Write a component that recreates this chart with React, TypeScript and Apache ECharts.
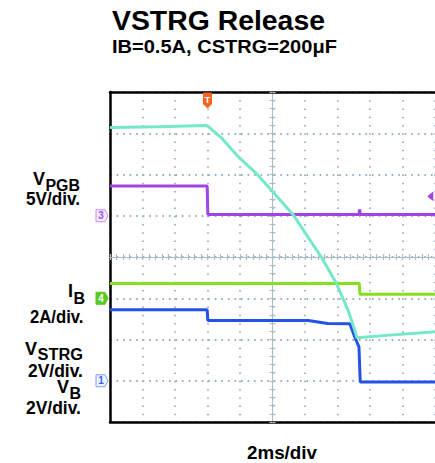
import React, { useEffect, useRef } from "react";
import * as echarts from "echarts";

// ---- texts ----
const TITLE = "VSTRG Release";
const SUBTITLE = "IB=0.5A, CSTRG=200μF";
const TIME_LABEL = "2ms/div";

// ---- screen: 10 horizontal divisions (2 ms/div), 8 vertical divisions ----
const X_DIVS = 10;
const Y_DIVS = 8;
const TRIGGER_X = 3;

// ---- traces, in screen divisions (x from left edge, y from bottom edge) ----
// VSTRG (cyan, 2V/div)
const vstrgX = [0, 1.5, 2.98, 3.44, 3.96, 4.48, 4.97, 5.64, 6.01, 6.5, 6.96, 7.32, 7.53, 7.6, 8.5, 10];
const vstrgY = [7.14, 7.16, 7.19, 6.88, 6.42, 6.04, 5.62, 5.02, 4.58, 4.0, 3.37, 2.72, 2.23, 2.04, 2.1, 2.19];
// VPGB (purple, 5V/div)
const vpgbX = [0, 2.99, 3.01, 7.66, 7.68, 7.7, 10];
const vpgbY = [5.72, 5.72, 5.03, 5.03, 5.15, 5.03, 5.03];
// IB (green, 2A/div)
const ibX = [0, 7.67, 7.69, 10];
const ibY = [3.36, 3.36, 3.1, 3.1];
// VB (blue, 2V/div)
const vbX = [0, 2.99, 3.01, 6.1, 6.7, 7.38, 7.53, 7.66, 7.7, 10];
const vbY = [2.72, 2.72, 2.46, 2.46, 2.39, 2.38, 2.06, 1.82, 0.97, 0.97];

// channel ground markers
const groundChannels = ["3", "4", "1"];
const groundLevels = [5.0, 3.0, 1.0];
// trigger level marker (right edge)
const trigLevelX = 9.78;
const trigLevelY = 5.47;

// ---- styles ----
const FONT = '"Liberation Sans", Arial, sans-serif';
const C_CYAN = "#74e8c9";
const C_PURPLE = "#a143e6";
const C_GREEN = "#86e01e";
const C_BLUE = "#2352e6";
const C_DOT = "#98aebb";
const C_CENTER = "#aabcc6";
const markerFill = ["#f4e8ff", "#5ac81e", "#eef2ff"];
const markerStroke = ["#c58ef0", "#5ac81e", "#7f9ef5"];
const markerText = ["#a050e0", "#ffffff", "#3a62e8"];

type Lbl = { t: string; x0: number; x1: number; base: number; size: number; fit: boolean };
const LABELS: Lbl[] = [
  { t: TITLE, x0: 112, x1: 325, base: 30, size: 28, fit: true },
  { t: SUBTITLE, x0: 112, x1: 337, base: 53.3, size: 19, fit: true },
  { t: TIME_LABEL, x0: 247, x1: 317, base: 459, size: 19, fit: true },
  { t: "V", x0: 33, x1: 45, base: 185, size: 18, fit: false },
  { t: "PGB", x0: 45.5, x1: 80, base: 190.7, size: 16, fit: true },
  { t: "5V/div.", x0: 26, x1: 80, base: 205, size: 18, fit: true },
  { t: "I", x0: 68, x1: 73, base: 297, size: 18, fit: false },
  { t: "B", x0: 73.5, x1: 84, base: 304, size: 16, fit: false },
  { t: "2A/div.", x0: 30, x1: 83.5, base: 322.7, size: 18, fit: true },
  { t: "V", x0: 25, x1: 37, base: 355, size: 18, fit: false },
  { t: "STRG", x0: 37.5, x1: 83, base: 359.3, size: 16, fit: true },
  { t: "2V/div.", x0: 28, x1: 83, base: 377.3, size: 18, fit: true },
  { t: "V", x0: 57, x1: 69, base: 393, size: 18, fit: false },
  { t: "B", x0: 69.5, x1: 81, base: 399.5, size: 16, fit: false },
  { t: "2V/div.", x0: 26, x1: 81, base: 414, size: 18, fit: true },
];

const pair = (xs: number[], ys: number[]) => xs.map((x, i) => [x, ys[i]]);

const lineSeries = (data: number[][], color: string, z: number) => ({
  type: "line",
  xAxisIndex: 0,
  yAxisIndex: 0,
  data,
  symbol: "none",
  showSymbol: false,
  silent: true,
  z,
  lineStyle: { color, width: 3 },
  itemStyle: { color },
});

const centerAxisCommon = (inside: boolean) => ({
  type: "value",
  interval: 1,
  axisLine: { show: true, onZero: true, onZeroAxisIndex: 1, lineStyle: { color: C_CENTER, width: 1 } },
  axisTick: { show: true, inside, length: 3, lineStyle: { color: C_CENTER, width: 1.2 } },
  minorTick: { show: true, splitNumber: 5, length: 3, lineStyle: { color: C_CENTER, width: 1.2 } },
  axisLabel: { show: false },
  splitLine: { show: false },
});

export default function App() {
  const ref = useRef<HTMLDivElement>(null);
  useEffect(() => {
    document.body.style.margin = "0";
    const chart = echarts.init(ref.current!, null, { renderer: "svg" });
    const frame = { show: true, onZero: false, lineStyle: { color: "#000", width: 2.5 } };
    chart.setOption({
      animation: false,
      backgroundColor: "#fff",
      grid: { left: 110, top: 92, width: 327.5, height: 330, containLabel: false },
      xAxis: [
        {
          type: "value", min: 0, max: X_DIVS, interval: 1,
          axisLine: frame, axisTick: { show: false }, axisLabel: { show: false },
          splitLine: { show: true, lineStyle: { color: C_DOT, width: 1.8, type: [1.6, 6.65] } },
        },
        { ...centerAxisCommon(false), min: -5, max: 5 },
        { ...centerAxisCommon(true), min: -5, max: 5 },
        {
          type: "value", position: "top", min: 0, max: X_DIVS, interval: 1,
          axisLine: frame, axisTick: { show: false }, axisLabel: { show: false }, splitLine: { show: false },
        },
      ],
      yAxis: [
        {
          type: "value", min: 0, max: Y_DIVS, interval: 1,
          axisLine: frame, axisTick: { show: false }, axisLabel: { show: false },
          splitLine: { show: true, lineStyle: { color: C_DOT, width: 1.8, type: [1.6, 4.95] } },
        },
        { ...centerAxisCommon(false), min: -4, max: 4 },
        { ...centerAxisCommon(true), min: -4, max: 4 },
      ],
      series: [
        lineSeries(pair(vpgbX, vpgbY), C_PURPLE, 3),
        lineSeries(pair(ibX, ibY), C_GREEN, 4),
        lineSeries(pair(vbX, vbY), C_BLUE, 5),
        lineSeries(pair(vstrgX, vstrgY), C_CYAN, 6),
      ],
    });

    const px = (x: number, y: number) =>
      chart.convertToPixel({ xAxisIndex: 0, yAxisIndex: 0 }, [x, y]) as number[];

    const ctx = document.createElement("canvas").getContext("2d")!;
    const measure = (t: string, size: number) => {
      ctx.font = `bold ${size}px "Liberation Sans"`;
      return ctx.measureText(t).width;
    };

    const graphics: any[] = [];
    LABELS.forEach((l) => {
      const w = measure(l.t, l.size);
      const sx = l.fit && w > 0 ? (l.x1 - l.x0) / w : 1;
      graphics.push({
        type: "text",
        x: l.x0,
        y: l.base - 0.35 * l.size,
        scaleX: sx,
        silent: true,
        style: {
          text: l.t,
          fontSize: l.size,
          fontWeight: "bold",
          fontFamily: FONT,
          fill: "#000",
          align: "left",
          verticalAlign: "middle",
        },
      });
    });

    // channel ground markers on the left frame
    groundChannels.forEach((ch, i) => {
      const [gx, gy] = px(0, groundLevels[i]);
      graphics.push({
        type: "polygon",
        silent: true,
        z: 100,
        shape: {
          points: [
            [gx - 14, gy - 6],
            [gx - 5, gy - 6],
            [gx - 2, gy],
            [gx - 5, gy + 6],
            [gx - 14, gy + 6],
          ],
        },
        style: { fill: markerFill[i], stroke: markerStroke[i], lineWidth: 1 },
      });
      graphics.push({
        type: "text",
        silent: true,
        z: 101,
        x: gx - 9,
        y: gy,
        style: {
          text: ch, fontSize: 10, fontWeight: "bold", fontFamily: FONT,
          fill: markerText[i], align: "center", verticalAlign: "middle",
        },
      });
    });

    // trigger position marker (top)
    const [tx, ty] = px(TRIGGER_X, Y_DIVS);
    graphics.push({
      type: "polygon",
      silent: true,
      z: 100,
      shape: {
        points: [
          [tx - 4, ty + 1],
          [tx + 4, ty + 1],
          [tx + 4, ty + 12],
          [tx, ty + 16],
          [tx - 4, ty + 12],
        ],
      },
      style: { fill: "#f26424", stroke: "#f26424", lineWidth: 1 },
    });
    graphics.push({
      type: "text",
      silent: true,
      z: 101,
      x: tx,
      y: ty + 8,
      style: {
        text: "T", fontSize: 9, fontWeight: "bold", fontFamily: FONT,
        fill: "#ffffff", align: "center", verticalAlign: "middle",
      },
    });

    // trigger level marker (right)
    const [lx, ly] = px(trigLevelX, trigLevelY);
    graphics.push({
      type: "polygon",
      silent: true,
      z: 100,
      shape: { points: [[lx, ly], [lx + 5, ly - 4], [lx + 5, ly + 4]] },
      style: { fill: C_PURPLE, stroke: C_PURPLE, lineWidth: 1 },
    });

    chart.setOption({ graphic: graphics });
    return () => chart.dispose();
  }, []);
  return (
    <div
      ref={ref}
      style={{ position: "fixed", left: 0, top: 0, width: 435, height: 463, background: "#fff" }}
    />
  );
}
